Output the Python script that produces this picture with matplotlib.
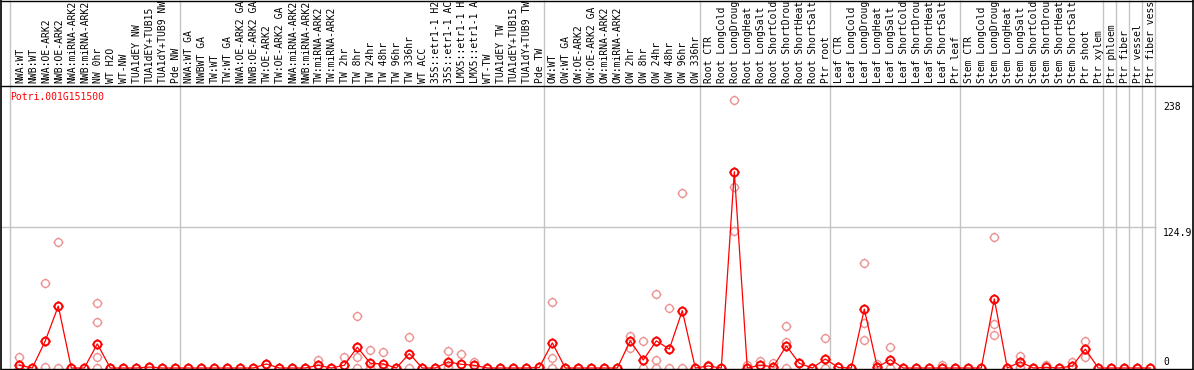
import matplotlib
matplotlib.use("Agg")
import matplotlib.pyplot as plt
from matplotlib.path import Path
import numpy as np

# column labels (as shown, truncated to 14 chars)
labels = [
    # NW
    "NWA:WT", "NWB:WT", "NWA:OE-ARK2", "NWB:OE-ARK2", "NWA:miRNA-ARK2", "NWB:miRNA-ARK2",
    "NW 0hr", "WT H2O", "WT-NW", "TUA1dEY NW", "TUA1dEY+TUB15", "TUA1dY+TUB9 NW", "Pde NW",
    # TW
    "NWA:WT GA", "NWBWT GA", "TW:WT", "TW:WT GA", "NWA:OE-ARK2 GA", "NWB:OE-ARK2 GA",
    "TW:OE-ARK2", "TW:OE-ARK2 GA", "NWA:miRNA-ARK2", "NWB:miRNA-ARK2", "TW:miRNA-ARK2",
    "TW:miRNA-ARK2", "TW 2hr", "TW 8hr", "TW 24hr", "TW 48hr", "TW 96hr", "TW 336hr",
    "WT ACC", "35S::etr1-1 H2", "35S::etr1-1 AC", "LMX5::etr1-1 H", "LMX5::etr1-1 A",
    "WT-TW", "TUA1dEY TW", "TUA1dEY+TUB15", "TUA1dY+TUB9 TW", "Pde TW",
    # OW
    "OW:WT", "OW:WT GA", "OW:OE-ARK2", "OW:OE-ARK2 GA", "OW:miRNA-ARK2", "OW:miRNA-ARK2",
    "OW 2hr", "OW 8hr", "OW 24hr", "OW 48hr", "OW 96hr", "OW 336hr",
    # root
    "Root CTR", "Root LongCold", "Root LongDroug", "Root LongHeat", "Root LongSalt",
    "Root ShortCold", "Root ShortDrou", "Root ShortHeat", "Root ShortSalt", "Ptr root",
    # leaf
    "Leaf CTR", "Leaf LongCold", "Leaf LongDroug", "Leaf LongHeat", "Leaf LongSalt",
    "Leaf ShortCold", "Leaf ShortDrou", "Leaf ShortHeat", "Leaf ShortSalt", "Ptr leaf",
    # stem
    "Stem CTR", "Stem LongCold", "Stem LongDroug", "Stem LongHeat", "Stem LongSalt",
    "Stem ShortCold", "Stem ShortDrou", "Stem ShortHeat", "Stem ShortSalt", "Ptr shoot",
    "Ptr xylem",
    "Ptr phloem", "Ptr fiber", "Ptr vessel", "Ptr fiber vess",
]

# last column index of each group (separator lines)
group_ends = [12, 40, 52, 62, 72, 83, 84, 85, 86, 87]

means = [
    2.4, 0, 24.1, 55, 0, 0, 21.4, 0, 0, 0, 0.8, 0, 0,
    0, 0, 0, 0, 0, 0, 3.6, 0, 0, 0, 2.4, 0, 2.4, 18.4, 4.2, 3.6, 0, 12.8, 0, 0,
    5.4, 3.3, 2.4, 0, 0, 0, 0, 0.5,
    22.3, 0, 0, 0, 0, 0, 24.1, 7.1, 24.1, 16.7, 50.9, 0,
    1.8, 0, 174.2, 0, 2.4, 1.2, 19.6, 4.2, 0, 8,
    0.5, 0, 52.3, 0.6, 7.4, 0, 0, 0, 0, 0,
    0, 0, 61.3, 0, 5.4, 0, 0.6, 0, 1.8, 16.7, 0,
    0, 0, 0, 0,
]

reps = [
    [9.5, 0], [0], [75, 0.6], [112, 0], [0], [0], [57.7, 40.8, 9.5, 0], [0], [0], [0], [1.2], [0], [0],
    [0], [0], [0], [0], [0], [0], [3.6], [0], [0], [0], [7.1], [0], [9.5], [46.1, 10.1, 0],
    [15.8, 0], [14, 0], [0], [27.4, 0], [0], [0], [15.2, 1.2], [12.5], [5], [0], [0], [0], [0], [0.5],
    [58.9, 8.9, 0], [0], [0], [0], [0], [0], [28.8, 17.8], [24.1, 0], [65.7, 7.1, 0], [53.2, 0],
    [155, 0], [0],
    [2.3], [0], [238, 160.3, 122], [2.3], [6.2], [4.7], [37.2, 23.5, 0], [4.7], [0], [26.5, 0],
    [1], [0], [93.4, 39.9, 24.7], [3.6], [18.4, 0], [0], [0], [0], [2.4], [0],
    [0], [0], [116, 39, 29.4], [0], [10.4, 0.6], [0], [2.4], [0], [5.4], [23.8, 10.1], [0],
    [0], [0], [0], [0],
]

title = "Potri.001G151500"
ytick_text = ["238", "124.9", "0"]
grid_value = 124.9

W, H = 1194, 370
x0, step = 19.3, 13.0      # pixel of first column centre, column spacing
base, scale = 368.0, 1.127  # pixel row of value 0, pixels per unit


def X(px):
    return (px - x0) / step


def Y(py):
    return (base - py) / scale


# circle with four small ticks
circ = Path.unit_circle()
ticks = [Path([(0, 1), (0, 1.3)]), Path([(0, -1), (0, -1.3)]),
         Path([(1, 0), (1.3, 0)]), Path([(-1, 0), (-1.3, 0)])]
marker = Path.make_compound_path(circ, *ticks)

fig = plt.figure(figsize=(W / 100, H / 100), dpi=100)
ax = fig.add_axes([0, 0, 1, 1])
ax.set_xlim(X(0), X(W))
ax.set_ylim(Y(H), Y(0))
ax.set_axis_off()

mono = "DejaVu Sans Mono"
gray = "#c4c4c4"

# separators
ax.vlines([X(10)] + [g + 5 / step for g in group_ends], Y(368), Y(0), color=gray, lw=1, zorder=1)
ax.hlines(grid_value, X(0), X(1155.5), color=gray, lw=1, zorder=1)

# frame
ax.hlines([Y(0.5), Y(86), Y(368.5)], X(0), X(1193), color="black", lw=1, zorder=5)
ax.vlines([X(1), X(1192.7)], Y(370), Y(0), color="black", lw=1.2, zorder=5)

idx = np.arange(len(means))

# replicates
for k, vals in enumerate(reps):
    ax.plot([k] * len(vals), vals, linestyle="none", marker=marker, markersize=7.2,
            markerfacecolor="none", markeredgecolor="#ec9494", markeredgewidth=1.0, zorder=2)

# means
ax.plot(idx, means, color="#ff0000", lw=0.9, marker=marker, markersize=7.2,
        markerfacecolor="none", markeredgecolor="#ff0000", markeredgewidth=1.4, zorder=3)

# column labels
for k, lab in enumerate(labels):
    ax.text(k + 0.05, Y(83), lab, rotation=90, ha="center", va="bottom",
            fontsize=7, family=mono, color="black", zorder=4)

ax.text(X(10), Y(97), title, ha="left", va="center", fontsize=7, family=mono, color="#ff0000")

for lab, py in zip(ytick_text, [106.7, 232.7, 361.7]):
    ax.text(X(1163), Y(py), lab, ha="left", va="center", fontsize=7, family=mono, color="black")

fig.savefig("out.png", dpi=100)
